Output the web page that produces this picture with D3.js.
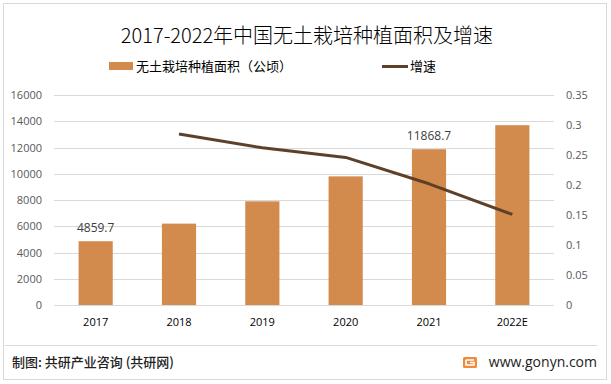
<!DOCTYPE html>
<html>
<head>
<meta charset="utf-8">
<script src="https://cdn.jsdelivr.net/npm/d3@7"></script>
<style>
  body { margin: 0; background: #fff; }
  svg { display: block; font-family: "Noto Sans CJK SC", "Microsoft YaHei", sans-serif; }
</style>
</head>
<body>
<script>
// data
const years = ["2017", "2018", "2019", "2020", "2021", "2022E"];
const area = [4859.7, 6200, 7900, 9800, 11868.7, 13700];
const growth = [null, 0.285, 0.262, 0.246, 0.202, 0.151];
const labelled = ["2017", "2021"];
const leftTicks = [0, 2000, 4000, 6000, 8000, 10000, 12000, 14000, 16000];
const rightTicks = [0, 0.05, 0.1, 0.15, 0.2, 0.25, 0.3, 0.35];

const width = 611, height = 384;
const margin = { top: 95, right: 57, bottom: 79, left: 54 };
const barColor = "#d38b4d", lineColor = "#5e4029";
const numFont = "'Open Sans', 'Noto Sans', sans-serif";

const svg = d3.select("body").append("svg")
  .attr("width", width).attr("height", height);

// outer frame
svg.append("rect")
  .attr("x", 3.5).attr("y", 3.5).attr("width", 603).attr("height", 376)
  .attr("fill", "#fff").attr("stroke", "#d9d9d9");

const x = d3.scaleBand().domain(years)
  .range([margin.left, width - margin.right])
  .paddingInner(0.59).paddingOuter(0.295);
const y = d3.scaleLinear().domain([0, 16000])
  .range([height - margin.bottom, margin.top]);
const y2 = d3.scaleLinear().domain([0, 0.35])
  .range([height - margin.bottom, margin.top]);

// grid lines
svg.append("g").selectAll("line").data(leftTicks).join("line")
  .attr("x1", margin.left).attr("x2", width - margin.right)
  .attr("y1", d => Math.round(y(d)) + 0.5).attr("y2", d => Math.round(y(d)) + 0.5)
  .attr("stroke", "#d9d9d9");

// left axis
const yAxis = svg.append("g")
  .attr("transform", `translate(${margin.left},0)`)
  .call(d3.axisLeft(y).tickValues(leftTicks).tickSize(0).tickPadding(12).tickFormat(d => d));
yAxis.select(".domain").remove();
yAxis.selectAll("text").attr("fill", "#595959").style("font-size", "11px").style("font-family", numFont);

// right axis
const y2Axis = svg.append("g")
  .attr("transform", `translate(${width - margin.right},0)`)
  .call(d3.axisRight(y2).tickValues(rightTicks).tickSize(0).tickPadding(12).tickFormat(d => +d.toFixed(2)));
y2Axis.select(".domain").remove();
y2Axis.selectAll("text").attr("fill", "#595959").style("font-size", "11px").style("font-family", numFont);

// bottom axis
const xAxis = svg.append("g")
  .attr("transform", `translate(0,${height - margin.bottom})`)
  .call(d3.axisBottom(x).tickSize(0).tickPadding(13));
xAxis.select(".domain").remove();
xAxis.selectAll("text").attr("fill", "#000").style("font-size", "11px").style("font-family", numFont);

// bars
svg.append("g").selectAll("rect").data(area).join("rect")
  .attr("x", (d, i) => x(years[i]))
  .attr("y", d => y(d))
  .attr("width", x.bandwidth())
  .attr("height", d => y(0) - y(d))
  .attr("fill", barColor);

// bar labels
svg.append("g").selectAll("text")
  .data(area.map((d, i) => ({ year: years[i], v: d })).filter(d => labelled.includes(d.year)))
  .join("text")
  .attr("x", d => x(d.year) + x.bandwidth() / 2)
  .attr("y", d => y(d.v) - 9)
  .attr("text-anchor", "middle")
  .attr("fill", "#404040")
  .style("font-size", "12px")
  .style("font-family", numFont)
  .text(d => d.v);

// growth line
const pts = growth.map((g, i) => ({ year: years[i], g })).filter(d => d.g !== null);
svg.append("path")
  .datum(pts)
  .attr("fill", "none")
  .attr("stroke", lineColor)
  .attr("stroke-width", 3)
  .attr("stroke-linejoin", "round")
  .attr("d", d3.line().x(d => x(d.year) + x.bandwidth() / 2).y(d => y2(d.g)));

// title
svg.append("text")
  .attr("x", 307).attr("y", 43)
  .attr("text-anchor", "middle")
  .style("font-size", "20px")
  .style("font-weight", "300")
  .attr("fill", "#000")
  .text("2017-2022年中国无土栽培种植面积及增速");

// legend
svg.append("rect").attr("x", 109).attr("y", 62).attr("width", 24).attr("height", 8).attr("fill", barColor);
svg.append("text").attr("x", 136).attr("y", 71).style("font-size", "13px").attr("fill", "#000")
  .text("无土栽培种植面积（公顷）");
svg.append("line").attr("x1", 382).attr("x2", 408).attr("y1", 66.5).attr("y2", 66.5)
  .attr("stroke", lineColor).attr("stroke-width", 3);
svg.append("text").attr("x", 410).attr("y", 71).style("font-size", "13px").attr("fill", "#000")
  .text("增速");

// footer
svg.append("line").attr("x1", 5).attr("x2", 597).attr("y1", 345.5).attr("y2", 345.5)
  .attr("stroke", "#d9d9d9");
svg.append("text").attr("x", 12).attr("y", 367).style("font-size", "13px").attr("fill", "#222")
  .style("font-weight", "500")
  .text("制图: 共研产业咨询 (共研网)");
const logo = svg.append("g").attr("transform", "translate(463,357)");
logo.append("rect").attr("width", 14).attr("height", 11).attr("rx", 1.5).attr("fill", "#f08a3c");
logo.append("path").attr("d", "M3,3 H11 M3,3 V8 H11 V5.5 H7").attr("stroke", "#fff")
  .attr("stroke-width", 1.6).attr("fill", "none");
svg.append("text").attr("x", 597).attr("y", 367).attr("text-anchor", "end")
  .style("font-size", "14px").attr("fill", "#222")
  .style("font-family", numFont)
  .text("www.gonyn.com");
</script>
</body>
</html>
